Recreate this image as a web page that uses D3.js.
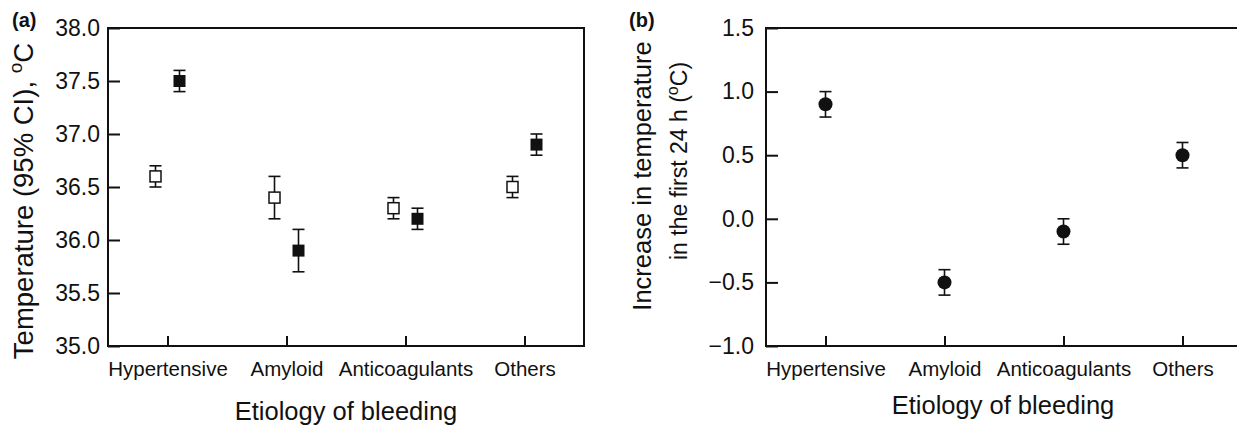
<!DOCTYPE html>
<html>
<head>
<meta charset="utf-8">
<script src="https://cdn.jsdelivr.net/npm/d3@7"></script>
<style>
  html, body { margin: 0; padding: 0; background: #fff; }
  svg { display: block; font-family: "Liberation Sans", Arial, sans-serif; }
  text { fill: #111; }
</style>
</head>
<body>
<svg id="chart" width="1237" height="426"></svg>
<script>
// ---- data ----
const categories = ["Hypertensive", "Amyloid", "Anticoagulants", "Others"];

// Panel (a): temperature (95% CI), open = admission, filled = after 24 h
const openMean = [36.6, 36.4, 36.3, 36.5];
const openLow  = [36.5, 36.2, 36.2, 36.4];
const openHigh = [36.7, 36.6, 36.4, 36.6];

const filledMean = [37.5, 35.9, 36.2, 36.9];
const filledLow  = [37.4, 35.7, 36.1, 36.8];
const filledHigh = [37.6, 36.1, 36.3, 37.0];

// Panel (b): increase in temperature in the first 24 h
const incMean = [0.9, -0.5, -0.1, 0.5];
const incLow  = [0.8, -0.6, -0.2, 0.4];
const incHigh = [1.0, -0.4, 0.0, 0.6];

const yTicksA = [35.0, 35.5, 36.0, 36.5, 37.0, 37.5, 38.0];
const yTicksB = [-1.0, -0.5, 0.0, 0.5, 1.0, 1.5];

const titleA = "Temperature (95% CI), ";
const titleB1 = "Increase in temperature";
const titleB2 = "in the first 24 h (";
const xTitle = "Etiology of bleeding";

// ---- layout ----
const svg = d3.select("#chart");
const ink = "#111";
const plotTop = 28, plotBottom = 346;

function fmt(v) { return d3.format(".1f")(v).replace("-", "\u2212"); }

// ---------- Panel (a) ----------
const xa = d3.scalePoint().domain(categories).range([108, 584]).padding(0.5);
const ya = d3.scaleLinear().domain([35, 38]).range([plotBottom, plotTop]);

const ga = svg.append("g");
ga.append("rect").attr("x", 108).attr("y", plotTop).attr("width", 476).attr("height", plotBottom - plotTop)
  .attr("fill", "none").attr("stroke", ink).attr("stroke-width", 2);

const axA = ga.append("g").attr("transform", "translate(108,0)")
  .call(d3.axisLeft(ya).tickValues(yTicksA).tickFormat(fmt).tickSizeInner(-12).tickSizeOuter(0).tickPadding(8));
const axAx = ga.append("g").attr("transform", `translate(0,${plotBottom})`)
  .call(d3.axisBottom(xa).tickSizeInner(-10).tickSizeOuter(0).tickPadding(15));
[axA, axAx].forEach(a => {
  a.select(".domain").remove();
  a.selectAll(".tick line").attr("stroke", ink).attr("stroke-width", 2);
});
axA.selectAll(".tick text").style("font-size", "23px").attr("fill", ink).attr("font-family", null);
axAx.selectAll(".tick text").style("font-size", "20.5px").attr("fill", ink).attr("font-family", null);

const off = 12, cap = 6;
function errBar(g, x, lo, hi, y) {
  g.append("line").attr("x1", x).attr("x2", x).attr("y1", y(lo)).attr("y2", y(hi))
    .attr("stroke", ink).attr("stroke-width", 1.6);
  [lo, hi].forEach(v => g.append("line").attr("x1", x - cap).attr("x2", x + cap)
    .attr("y1", y(v)).attr("y2", y(v)).attr("stroke", ink).attr("stroke-width", 1.6));
}
categories.forEach((c, i) => {
  const xo = xa(c) - off, xf = xa(c) + off;
  errBar(ga, xo, openLow[i], openHigh[i], ya);
  ga.append("rect").attr("x", xo - 5.5).attr("y", ya(openMean[i]) - 5.5).attr("width", 11).attr("height", 11)
    .attr("fill", "#fff").attr("stroke", ink).attr("stroke-width", 1.5);
  errBar(ga, xf, filledLow[i], filledHigh[i], ya);
  ga.append("rect").attr("x", xf - 6).attr("y", ya(filledMean[i]) - 6).attr("width", 12).attr("height", 12)
    .attr("fill", ink);
});

ga.append("text").attr("x", 346).attr("y", 420).attr("text-anchor", "middle")
  .style("font-size", "25.5px").text(xTitle);
const ta = ga.append("text").attr("transform", "translate(33,201) rotate(-90)")
  .attr("text-anchor", "middle").style("font-size", "27.5px");
ta.append("tspan").text(titleA);
ta.append("tspan").style("font-size", "19px").attr("dy", -11).text("o");
ta.append("tspan").attr("dy", 11).text("C");
ga.append("text").attr("x", 12).attr("y", 27).style("font-size", "20px").attr("font-weight", "bold").text("(a)");

// ---------- Panel (b) ----------
const xb = d3.scalePoint().domain(categories).range([766, 1242]).padding(0.5);
const yb = d3.scaleLinear().domain([-1, 1.5]).range([plotBottom, plotTop]);

const gb = svg.append("g");
gb.append("rect").attr("x", 766).attr("y", plotTop).attr("width", 476).attr("height", plotBottom - plotTop)
  .attr("fill", "none").attr("stroke", ink).attr("stroke-width", 2);

const axB = gb.append("g").attr("transform", "translate(766,0)")
  .call(d3.axisLeft(yb).tickValues(yTicksB).tickFormat(fmt).tickSizeInner(-12).tickSizeOuter(0).tickPadding(12));
const axBx = gb.append("g").attr("transform", `translate(0,${plotBottom})`)
  .call(d3.axisBottom(xb).tickSizeInner(-10).tickSizeOuter(0).tickPadding(15));
[axB, axBx].forEach(a => {
  a.select(".domain").remove();
  a.selectAll(".tick line").attr("stroke", ink).attr("stroke-width", 2);
});
axB.selectAll(".tick text").style("font-size", "23px").attr("fill", ink).attr("font-family", null);
axBx.selectAll(".tick text").style("font-size", "20.5px").attr("fill", ink).attr("font-family", null);

categories.forEach((c, i) => {
  const x = xb(c);
  errBar(gb, x, incLow[i], incHigh[i], yb);
  gb.append("circle").attr("cx", x).attr("cy", yb(incMean[i])).attr("r", 7).attr("fill", ink);
});

gb.append("text").attr("x", 1003).attr("y", 414).attr("text-anchor", "middle")
  .style("font-size", "25.5px").text(xTitle);
gb.append("text").attr("transform", "translate(651,176) rotate(-90)")
  .attr("text-anchor", "middle").style("font-size", "25.5px").text(titleB1);
const tb = gb.append("text").attr("transform", "translate(687,161) rotate(-90)")
  .attr("text-anchor", "middle").style("font-size", "23px");
tb.append("tspan").text(titleB2);
tb.append("tspan").style("font-size", "16px").attr("dy", -9).text("o");
tb.append("tspan").attr("dy", 9).text("C)");
gb.append("text").attr("x", 629).attr("y", 27).style("font-size", "20px").attr("font-weight", "bold").text("(b)");
</script>
</body>
</html>
